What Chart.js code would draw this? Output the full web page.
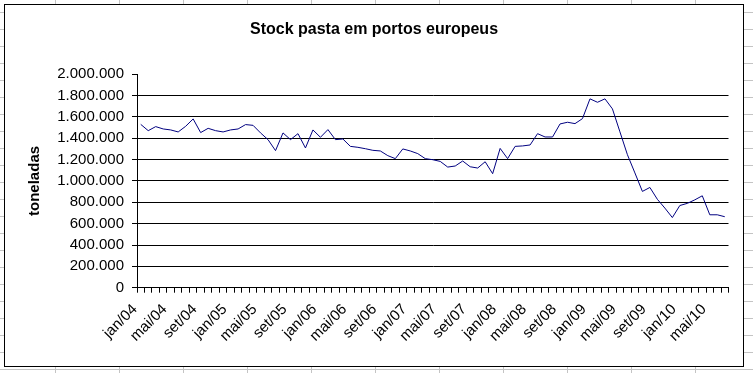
<!DOCTYPE html>
<html>
<head>
<meta charset="utf-8">
<script src="https://cdn.jsdelivr.net/npm/chart.js@4.4.1/dist/chart.umd.min.js"></script>
<style>
  html, body { margin: 0; padding: 0; }
  body {
    width: 753px; height: 373px; overflow: hidden;
    background-color: #fff;
    background-image: linear-gradient(to right, #c4c4c4 1px, transparent 1px),
                      linear-gradient(to bottom, #c4c4c4 1px, transparent 1px);
    background-size: 64px 100%, 100% 17px;
    background-position: 55px 0, 0 12px;
  }
  #box {
    position: absolute; left: 4px; top: 4px;
    width: 738px; height: 361px;
    border: 1px solid #000; background: #fff;
  }
  canvas { display: block; }
</style>
</head>
<body>
<div id="box"><canvas id="c" width="738" height="361"></canvas></div>
<script>
const titleText = 'Stock pasta em portos europeus';
const yAxisTitle = 'toneladas';
const monthNames = ['jan','fev','mar','abr','mai','jun','jul','ago','set','out','nov','dez'];
const years = ['04','05','06','07','08','09','10'];
const categories = [];
for (const y of years) for (const m of monthNames) categories.push(m + '/' + y);
categories.length = 79; // jan/04 .. jul/10

// stock (toneladas)
const stock = [
  1530000, 1471000, 1509000, 1487000, 1478000, 1459000, 1512000, 1581000, 1453000, 1493000, 1471000, 1459000,
  1478000, 1487000, 1528000, 1521000, 1450000, 1387000, 1284000, 1450000, 1387000, 1443000, 1309000, 1478000,
  1409000, 1481000, 1387000, 1393000, 1324000, 1315000, 1302000, 1287000, 1281000, 1237000, 1209000, 1300000,
  1281000, 1256000, 1209000, 1199000, 1183000, 1130000, 1140000, 1187000, 1133000, 1121000, 1180000, 1068000,
  1305000, 1209000, 1324000, 1328000, 1337000, 1443000, 1412000, 1412000, 1534000, 1550000, 1537000, 1584000,
  1769000, 1737000, 1769000, 1675000, 1460000, 1246000, 1075000, 902000, 939000, 828000, 746000, 657000,
  770000, 790000, 823000, 861000, 683000, 683000, 665000
];
const yMin = 0, yMax = 2000000, yStep = 200000;
const labelEvery = 4;

function fmt(v) { return String(v).replace(/\B(?=(\d{3})+(?!\d))/g, '.'); }

const FONT = "'Liberation Sans', Arial, sans-serif";

new Chart(document.getElementById('c'), {
  type: 'line',
  data: {
    labels: categories,
    datasets: [{
      data: stock,
      borderColor: '#000080',
      borderWidth: 1,
      pointRadius: 0,
      tension: 0,
      fill: false
    }]
  },
  options: {
    responsive: false,
    animation: false,
    events: [],
    layout: { padding: { left: 0, right: 0, top: 0, bottom: 0 } },
    plugins: {
      legend: { display: false },
      tooltip: { enabled: false },
      title: {
        display: true,
        text: titleText,
        color: '#000',
        font: { family: FONT, size: 16, weight: 'bold', lineHeight: 1.2 },
        padding: { top: 15, bottom: 35 }
      }
    },
    scales: {
      x: {
        type: 'category',
        offset: true,
        afterFit: s => { s.height = 78.3; },
        grid: {
          offset: true,
          drawOnChartArea: false,
          drawTicks: true,
          tickLength: 5,
          color: '#000',
          tickColor: '#000'
        },
        border: { display: true, color: '#000', width: 1 },
        ticks: {
          autoSkip: false,
          minRotation: 45,
          maxRotation: 45,
          padding: 2,
          color: '#000',
          font: { family: FONT, size: 15 },
          callback: (v, i) => (i % labelEvery === 0 ? categories[i] + '  ' : '')
        }
      },
      y: {
        min: yMin,
        max: yMax,
        afterFit: s => { s.width = 132; },
        grid: {
          color: c => (c.tick && c.tick.value === yMax ? 'rgba(0,0,0,0)' : '#000'),
          tickColor: '#000',
          tickLength: 5,
          lineWidth: 1
        },
        border: { display: true, color: '#000', width: 1 },
        ticks: {
          stepSize: yStep,
          padding: 8,
          color: '#000',
          font: { family: FONT, size: 15 },
          callback: v => fmt(v)
        },
        title: {
          display: true,
          text: yAxisTitle,
          color: '#000',
          font: { family: FONT, size: 15, weight: 'bold', lineHeight: 1.2 },
          padding: { top: 21, bottom: 0 }
        }
      },
      yRight: {
        position: 'right',
        display: true,
        min: yMin,
        max: yMax,
        afterFit: s => { s.width = 14.5; },
        grid: { display: false, drawTicks: false },
        border: { display: false },
        ticks: { display: false }
      }
    }
  }
});
</script>
</body>
</html>
